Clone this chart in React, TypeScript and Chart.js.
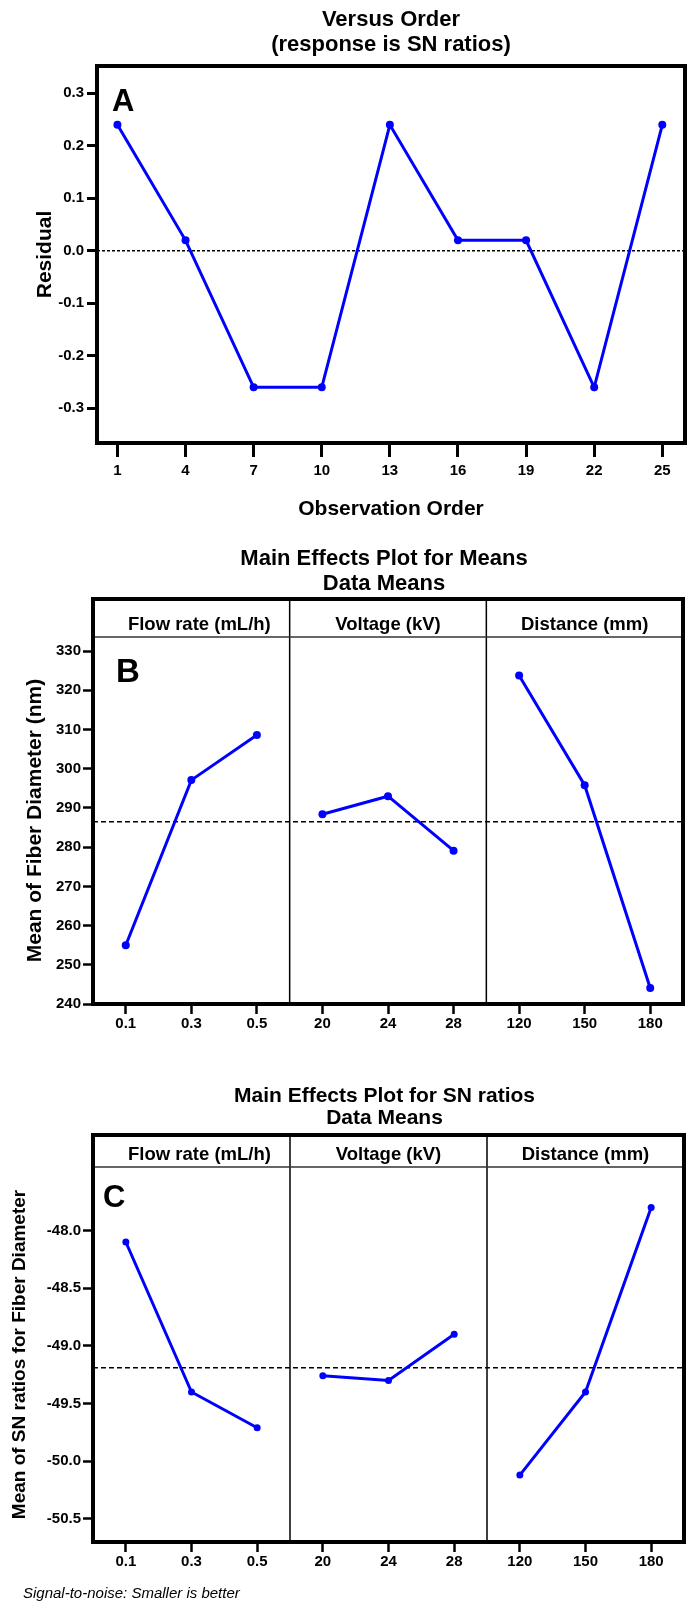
import React, { useEffect, useRef } from "react";
import { Chart, registerables } from "chart.js";

Chart.register(...registerables);

const FAMILY = "'Liberation Sans', Arial, Helvetica, sans-serif";
const BLUE = "#0000ff";
const CANVAS_W = 692;

// ---------- Panel A : Versus Order ----------
const observationOrder = [1, 4, 7, 10, 13, 16, 19, 22, 25];
const residuals = [0.24, 0.02, -0.26, -0.26, 0.24, 0.02, 0.02, -0.26, 0.24];
const orderTicks = [1, 4, 7, 10, 13, 16, 19, 22, 25];
const residualTicks = [-0.3, -0.2, -0.1, 0.0, 0.1, 0.2, 0.3];
const residualRef = 0;

// ---------- Factors ----------
const factorNames = ["Flow rate (mL/h)", "Voltage (kV)", "Distance (mm)"];
const flowLevels = ["0.1", "0.3", "0.5"];
const voltageLevels = ["20", "24", "28"];
const distanceLevels = ["120", "150", "180"];
const levelSets = [flowLevels, voltageLevels, distanceLevels];

// ---------- Panel B : Main effects for means ----------
const meanFlow = [255.0, 297.1, 308.6];
const meanVoltage = [288.4, 293.0, 279.1];
const meanDistance = [323.8, 295.8, 244.1];
const meanOverall = 286.5;
const meanTicks = [240, 250, 260, 270, 280, 290, 300, 310, 320, 330];

// ---------- Panel C : Main effects for SN ratios ----------
const snFlow = [-48.1, -49.4, -49.71];
const snVoltage = [-49.26, -49.3, -48.9];
const snDistance = [-50.12, -49.4, -47.8];
const snOverall = -49.19;
const snTicks = [-50.5, -50.0, -49.5, -49.0, -48.5, -48.0];

function font(size: number, weight = "bold", style = "normal") {
  return `${style} ${weight} ${size}px ${FAMILY}`;
}

function text(
  ctx: CanvasRenderingContext2D,
  s: string,
  x: number,
  y: number,
  f: string,
  align: CanvasTextAlign = "center",
  baseline: CanvasTextBaseline = "middle",
  rotate = false
) {
  ctx.save();
  ctx.fillStyle = "#000";
  ctx.font = f;
  ctx.textAlign = align;
  ctx.textBaseline = baseline;
  if (rotate) {
    ctx.translate(x, y);
    ctx.rotate(-Math.PI / 2);
    ctx.fillText(s, 0, 0);
  } else {
    ctx.fillText(s, x, y);
  }
  ctx.restore();
}

function configA(): any {
  const H = 540;
  const area = { top: 66, bottom: 443, left: 97, right: 685 };
  const xMin = 0.1;
  const xMax = 26;
  const tickFont = { family: FAMILY, size: 15, weight: "bold" as const };
  const decor = {
    id: "decorA",
    afterDraw(chart: any) {
      const ctx = chart.ctx as CanvasRenderingContext2D;
      const a = chart.chartArea;
      ctx.save();
      ctx.strokeStyle = "#000";
      ctx.lineWidth = 4;
      ctx.strokeRect(a.left, a.top, a.right - a.left, a.bottom - a.top);
      ctx.restore();
      const cx = (a.left + a.right) / 2;
      text(ctx, "Versus Order", cx, 20, font(22));
      text(ctx, "(response is SN ratios)", cx, 45, font(22));
      text(ctx, "Observation Order", cx, 509, font(21));
      text(ctx, "Residual", 45, (a.top + a.bottom) / 2, font(21), "center", "middle", true);
      text(ctx, "A", 112, 111, font(31), "left", "alphabetic");
    },
  };
  return {
    type: "line",
    data: {
      datasets: [
        {
          data: observationOrder.map((x, i) => ({ x, y: residuals[i] })),
          borderColor: BLUE,
          backgroundColor: BLUE,
          borderWidth: 3,
          pointRadius: 4,
          pointBorderWidth: 0,
          tension: 0,
        },
        {
          data: [
            { x: xMin, y: residualRef },
            { x: xMax, y: residualRef },
          ],
          borderColor: "#000",
          borderWidth: 1.5,
          borderDash: [3, 2],
          pointRadius: 0,
        },
      ],
    },
    options: {
      animation: false,
      responsive: false,
      events: [],
      layout: { padding: { top: area.top, right: CANVAS_W - area.right, left: 0, bottom: 0 } },
      plugins: { legend: { display: false }, tooltip: { enabled: false }, title: { display: false } },
      scales: {
        x: {
          type: "linear",
          min: xMin,
          max: xMax,
          afterBuildTicks: (s: any) => {
            s.ticks = orderTicks.map((v) => ({ value: v }));
          },
          afterFit: (s: any) => {
            s.height = H - area.bottom;
          },
          grid: { drawOnChartArea: false, drawTicks: true, tickLength: 14, tickWidth: 3, tickColor: "#000" },
          border: { display: false },
          ticks: { font: tickFont, color: "#000", padding: 5, autoSkip: false, maxRotation: 0, callback: (v: any) => String(v) },
        },
        y: {
          type: "linear",
          min: -0.366,
          max: 0.352,
          afterBuildTicks: (s: any) => {
            s.ticks = residualTicks.map((v) => ({ value: v }));
          },
          afterFit: (s: any) => {
            s.width = area.left;
          },
          grid: { drawOnChartArea: false, drawTicks: true, tickLength: 10, tickWidth: 3, tickColor: "#000" },
          border: { display: false },
          ticks: { font: tickFont, color: "#000", padding: 3, callback: (v: any) => Number(v).toFixed(1) },
        },
      },
    },
    plugins: [decor],
  };
}

type FactorPanel = {
  H: number;
  area: { top: number; bottom: number; left: number; right: number };
  headerTop: number;
  yMin: number;
  yMax: number;
  yTicks: number[];
  decimals: number;
  series: number[][];
  overall: number;
  titles: string[];
  titleYs: number[];
  titleSize: number;
  yTitle: string;
  yTitleX: number;
  yTitleSize: number;
  headerBaseline: number;
  headerSize: number;
  letter: string;
  letterX: number;
  letterBaseline: number;
  letterSize: number;
  pointRadius: number;
  labelPad: number;
  footnote?: { text: string; x: number; y: number };
};

function factorConfig(p: FactorPanel): any {
  const tickFont = { family: FAMILY, size: 15, weight: "bold" as const };
  const nGroups = levelSets.length;
  const perGroup = 3;
  const xMax = nGroups * perGroup;
  const tickValues: number[] = [];
  levelSets.forEach((lv, g) => lv.forEach((_, i) => tickValues.push(g * perGroup + 0.5 + i)));

  const decor = {
    id: "decorFactor",
    afterDraw(chart: any) {
      const ctx = chart.ctx as CanvasRenderingContext2D;
      const a = chart.chartArea;
      const xs = chart.scales.x;
      ctx.save();
      ctx.strokeStyle = "#000";
      ctx.lineWidth = 1.5;
      for (let g = 1; g < nGroups; g++) {
        const px = xs.getPixelForValue(g * perGroup);
        ctx.beginPath();
        ctx.moveTo(px, p.headerTop);
        ctx.lineTo(px, a.bottom);
        ctx.stroke();
      }
      ctx.strokeStyle = "#333";
      ctx.lineWidth = 1.5;
      ctx.beginPath();
      ctx.moveTo(a.left, a.top);
      ctx.lineTo(a.right, a.top);
      ctx.stroke();
      ctx.strokeStyle = "#000";
      ctx.lineWidth = 4;
      ctx.strokeRect(a.left, p.headerTop, a.right - a.left, a.bottom - p.headerTop);
      ctx.restore();
      for (let g = 0; g < nGroups; g++) {
        let l = xs.getPixelForValue(g * perGroup);
        const r = xs.getPixelForValue((g + 1) * perGroup);
        if (g === 0) l += 16;
        text(ctx, factorNames[g], (l + r) / 2, p.headerBaseline, font(p.headerSize), "center", "alphabetic");
      }
      const cx = (a.left + a.right) / 2 - 4;
      p.titles.forEach((t, i) => text(ctx, t, cx, p.titleYs[i], font(p.titleSize)));
      text(ctx, p.yTitle, p.yTitleX, (a.top + a.bottom) / 2, font(p.yTitleSize), "center", "middle", true);
      text(ctx, p.letter, p.letterX, p.letterBaseline, font(p.letterSize), "left", "alphabetic");
      if (p.footnote) {
        text(ctx, p.footnote.text, p.footnote.x, p.footnote.y, font(15, "normal", "italic"), "left", "middle");
      }
    },
  };

  const datasets: any[] = p.series.map((vals, g) => ({
    data: vals.map((v, i) => ({ x: g * perGroup + 0.5 + i, y: v })),
    borderColor: BLUE,
    backgroundColor: BLUE,
    borderWidth: 3,
    pointRadius: p.pointRadius,
    pointBorderWidth: 0,
    tension: 0,
  }));
  datasets.push({
    data: [
      { x: 0, y: p.overall },
      { x: xMax, y: p.overall },
    ],
    borderColor: "#000",
    borderWidth: 1.5,
    borderDash: [5, 3],
    pointRadius: 0,
  });

  return {
    type: "line",
    data: { datasets },
    options: {
      animation: false,
      responsive: false,
      events: [],
      layout: { padding: { top: p.area.top, right: CANVAS_W - p.area.right, left: 0, bottom: 0 } },
      plugins: { legend: { display: false }, tooltip: { enabled: false }, title: { display: false } },
      scales: {
        x: {
          type: "linear",
          min: 0,
          max: xMax,
          afterBuildTicks: (s: any) => {
            s.ticks = tickValues.map((v) => ({ value: v }));
          },
          afterFit: (s: any) => {
            s.height = p.H - p.area.bottom;
          },
          grid: { drawOnChartArea: false, drawTicks: true, tickLength: 10, tickWidth: 2.5, tickColor: "#000" },
          border: { display: false },
          ticks: {
            font: tickFont,
            color: "#000",
            padding: p.labelPad,
            autoSkip: false,
            maxRotation: 0,
            callback: (v: any) => {
              const g = Math.floor(Number(v) / perGroup);
              const i = Math.round(Number(v) - g * perGroup - 0.5);
              return levelSets[g] ? levelSets[g][i] : "";
            },
          },
        },
        y: {
          type: "linear",
          min: p.yMin,
          max: p.yMax,
          afterBuildTicks: (s: any) => {
            s.ticks = p.yTicks.map((v) => ({ value: v }));
          },
          afterFit: (s: any) => {
            s.width = p.area.left;
          },
          grid: { drawOnChartArea: false, drawTicks: true, tickLength: 10, tickWidth: 2.5, tickColor: "#000" },
          border: { display: false },
          ticks: { font: tickFont, color: "#000", padding: 2, callback: (v: any) => Number(v).toFixed(p.decimals) },
        },
      },
    },
    plugins: [decor],
  };
}

const panelB: FactorPanel = {
  H: 540,
  area: { top: 97, bottom: 464, left: 93, right: 683 },
  headerTop: 59,
  yMin: 240,
  yMax: 333.6,
  yTicks: meanTicks,
  decimals: 0,
  series: [meanFlow, meanVoltage, meanDistance],
  overall: meanOverall,
  titles: ["Main Effects Plot for Means", "Data Means"],
  titleYs: [19, 44],
  titleSize: 22,
  yTitle: "Mean of Fiber Diameter (nm)",
  yTitleX: 35,
  yTitleSize: 21,
  headerBaseline: 90,
  headerSize: 18.5,
  letter: "B",
  letterX: 116,
  letterBaseline: 142,
  letterSize: 33,
  pointRadius: 4,
  labelPad: 1,
};

const panelC: FactorPanel = {
  H: 542,
  area: { top: 87, bottom: 462, left: 93, right: 684 },
  headerTop: 55,
  yMin: -50.7,
  yMax: -47.45,
  yTicks: snTicks,
  decimals: 1,
  series: [snFlow, snVoltage, snDistance],
  overall: snOverall,
  titles: ["Main Effects Plot for SN ratios", "Data Means"],
  titleYs: [16, 38],
  titleSize: 21,
  yTitle: "Mean of SN ratios for Fiber Diameter",
  yTitleX: 20,
  yTitleSize: 19,
  headerBaseline: 80,
  headerSize: 18.5,
  letter: "C",
  letterX: 103,
  letterBaseline: 127,
  letterSize: 31,
  pointRadius: 3.5,
  labelPad: 1,
  footnote: { text: "Signal-to-noise: Smaller is better", x: 23, y: 514 },
};

export default function App() {
  const aRef = useRef<HTMLCanvasElement>(null);
  const bRef = useRef<HTMLCanvasElement>(null);
  const cRef = useRef<HTMLCanvasElement>(null);

  useEffect(() => {
    const charts = [
      new Chart(aRef.current as HTMLCanvasElement, configA()),
      new Chart(bRef.current as HTMLCanvasElement, factorConfig(panelB)),
      new Chart(cRef.current as HTMLCanvasElement, factorConfig(panelC)),
    ];
    return () => charts.forEach((c) => c.destroy());
  }, []);

  const cs = (top: number, h: number): React.CSSProperties => ({
    position: "absolute",
    left: 0,
    top,
    width: CANVAS_W,
    height: h,
    display: "block",
  });

  return (
    <div style={{ position: "absolute", left: 0, top: 0, width: CANVAS_W, height: 1622, background: "#fff" }}>
      <canvas ref={aRef} width={CANVAS_W} height={540} style={cs(0, 540)} />
      <canvas ref={bRef} width={CANVAS_W} height={540} style={cs(540, 540)} />
      <canvas ref={cRef} width={CANVAS_W} height={542} style={cs(1080, 542)} />
    </div>
  );
}
